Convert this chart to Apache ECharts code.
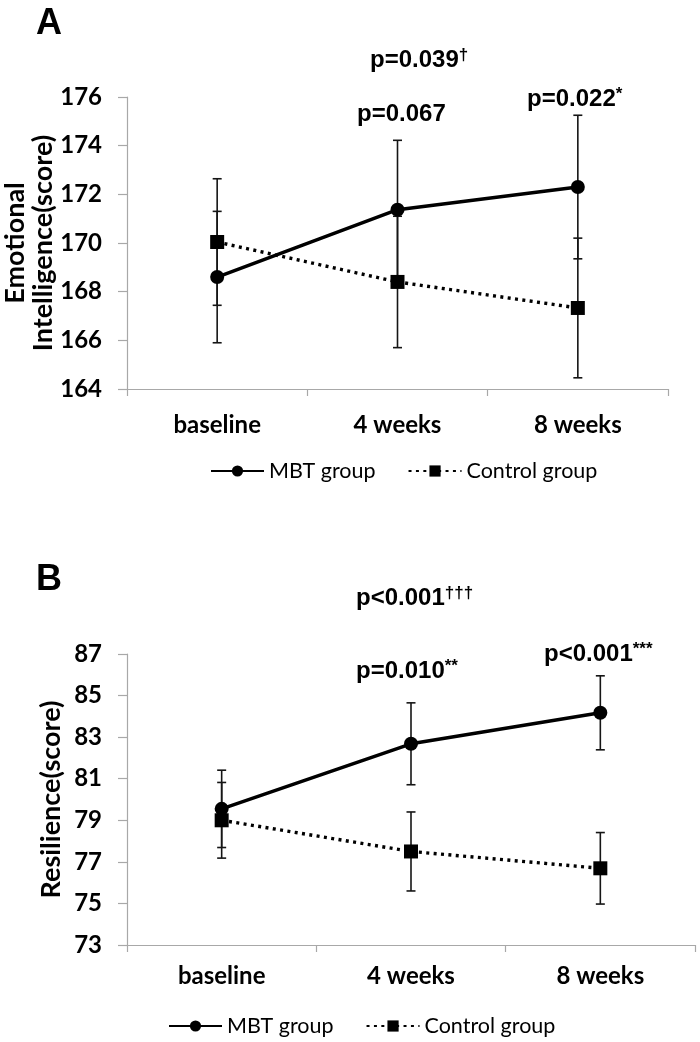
<!DOCTYPE html>
<html>
<head>
<meta charset="utf-8">
<script src="https://cdn.jsdelivr.net/npm/echarts@6/dist/echarts.min.js"></script>
<style>
html,body{margin:0;padding:0;background:#fff;}
#c{width:700px;height:1042px;}
</style>
</head>
<body>
<div id="c"></div>
<script>
// ---- data ----
const categories = ['baseline', '4 weeks', '8 weeks'];
const eiMBT = [168.6, 171.37, 172.3];
const eiMBTsd = [2.7, 2.85, 2.95];
const eiCtrl = [170.04, 168.4, 167.33];
const eiCtrlsd = [2.6, 2.7, 2.87];
const resMBT = [79.55, 82.68, 84.17];
const resMBTsd = [1.86, 1.97, 1.78];
const resCtrl = [79.0, 77.5, 76.69];
const resCtrlsd = [1.82, 1.9, 1.72];
const eiTicks = [164, 166, 168, 170, 172, 174, 176];
const resTicks = [73, 75, 77, 79, 81, 83, 85, 87];
const eiTitle = 'Emotional\nIntelligence(score)';
const resTitle = 'Resilience(score)';
const seriesNames = ['MBT group', 'Control group'];

// ---- helpers ----
function errData(m, sd) { return m.map((v, i) => [i, v - sd[i], v + sd[i]]); }
function errRender(params, api) {
  const i = api.value(0);
  const lo = api.coord([i, api.value(1)]);
  const hi = api.coord([i, api.value(2)]);
  const w = 4.5;
  const st = { stroke: '#151515', lineWidth: 1.6 };
  return {
    type: 'group', children: [
      { type: 'line', shape: { x1: lo[0], y1: lo[1], x2: hi[0], y2: hi[1] }, style: st },
      { type: 'line', shape: { x1: lo[0] - w, y1: lo[1], x2: lo[0] + w, y2: lo[1] }, style: st },
      { type: 'line', shape: { x1: hi[0] - w, y1: hi[1], x2: hi[0] + w, y2: hi[1] }, style: st }
    ]
  };
}
const tickFont = 'Lato';
const axisGray = '#a8a8a8';
function xAx(gi, margin) {
  return {
    type: 'category', gridIndex: gi, data: categories, boundaryGap: true,
    axisLine: { show: true, lineStyle: { color: axisGray, width: 1.2 } },
    axisTick: { show: true, length: 7, lineStyle: { color: axisGray, width: 1.2 } },
    axisLabel: { color: '#000', fontFamily: tickFont, fontWeight: 'bold', fontSize: 24, margin: margin }
  };
}
function yAx(gi, ticks, name, gap, nameSize) {
  return {
    type: 'value', gridIndex: gi, min: ticks[0], max: ticks[ticks.length - 1],
    splitLine: { show: false },
    axisLine: { show: true, lineStyle: { color: axisGray, width: 1.2 } },
    axisTick: { show: true, length: 9, customValues: ticks, lineStyle: { color: axisGray, width: 1.2 } },
    axisLabel: { customValues: ticks, color: '#000', fontFamily: tickFont, fontWeight: 'bold', fontSize: 24, margin: 25 },
    name: name, nameLocation: 'middle', nameRotate: 90, nameGap: gap, nameMoveOverlap: false,
    nameTextStyle: { color: '#000', fontFamily: tickFont, fontWeight: 'bold', fontSize: nameSize, lineHeight: 28 }
  };
}
function lineSeries(name, data, gi, dotted) {
  return {
    name: name, type: 'line', xAxisIndex: gi, yAxisIndex: gi, data: data, z: 5,
    symbol: dotted ? 'rect' : 'circle', symbolSize: 14,
    itemStyle: { color: '#000' },
    lineStyle: dotted ? { color: '#000', width: 3.4, type: [3, 4.4] } : { color: '#000', width: 3.5 }
  };
}
function errSeries(m, sd, gi) {
  return {
    type: 'custom', xAxisIndex: gi, yAxisIndex: gi, z: 2, silent: true,
    renderItem: errRender, data: errData(m, sd),
    encode: { x: 0, y: [1, 2] }
  };
}
const pFont = '"Liberation Sans", Arial, sans-serif';
function pLabel(x, y, main, sup) {
  return {
    type: 'text', x: x, y: y, z: 10,
    style: {
      text: '{m|' + main + '}{s|' + sup + '}',
      verticalAlign: 'middle', align: 'left',
      rich: {
        m: { fontFamily: pFont, fontWeight: 'bold', fontSize: 24, lineHeight: 27, fill: '#000' },
        s: { fontFamily: pFont, fontWeight: 'bold', fontSize: 17, lineHeight: 27, verticalAlign: 'top', fill: '#000' }
      }
    }
  };
}
function legend(left, top) {
  return {
    data: seriesNames, left: left, top: top, orient: 'horizontal',
    itemWidth: 53, itemHeight: 14, itemGap: 32, padding: 0, selectedMode: false,
    textStyle: { color: '#000', fontFamily: 'Lato', fontSize: 21.5 }
  };
}

const chart = echarts.init(document.getElementById('c'), null, { renderer: 'canvas' });
chart.setOption({
  animation: false,
  backgroundColor: '#fff',
  grid: [
    { left: 127, right: 32, top: 97, height: 292, outerBoundsMode: 'none', containLabel: false },
    { left: 127, right: 5, top: 654, height: 291, outerBoundsMode: 'none', containLabel: false }
  ],
  xAxis: [xAx(0, 24), xAx(1, 19)],
  yAxis: [yAx(0, eiTicks, eiTitle, 70, 27), yAx(1, resTicks, resTitle, 62, 27)],
  legend: [legend(210, 460), legend(168, 1015)],
  series: [
    errSeries(eiMBT, eiMBTsd, 0),
    errSeries(eiCtrl, eiCtrlsd, 0),
    lineSeries(seriesNames[0], eiMBT, 0, false),
    lineSeries(seriesNames[1], eiCtrl, 0, true),
    errSeries(resMBT, resMBTsd, 1),
    errSeries(resCtrl, resCtrlsd, 1),
    lineSeries(seriesNames[0], resMBT, 1, false),
    lineSeries(seriesNames[1], resCtrl, 1, true)
  ],
  graphic: [
    { type: 'text', x: 36, y: 6, style: { text: 'A', fontFamily: pFont, fontWeight: 'bold', fontSize: 36, fill: '#000' } },
    { type: 'text', x: 36, y: 562, style: { text: 'B', fontFamily: pFont, fontWeight: 'bold', fontSize: 36, fill: '#000' } },
    pLabel(370, 60, 'p=0.039', '†'),
    pLabel(357, 114, 'p=0.067', ''),
    pLabel(527, 99, 'p=0.022', '*'),
    pLabel(356, 598, 'p<0.001', '†††'),
    pLabel(356, 671, 'p=0.010', '**'),
    pLabel(544, 654, 'p<0.001', '***')
  ]
});
</script>
</body>
</html>
